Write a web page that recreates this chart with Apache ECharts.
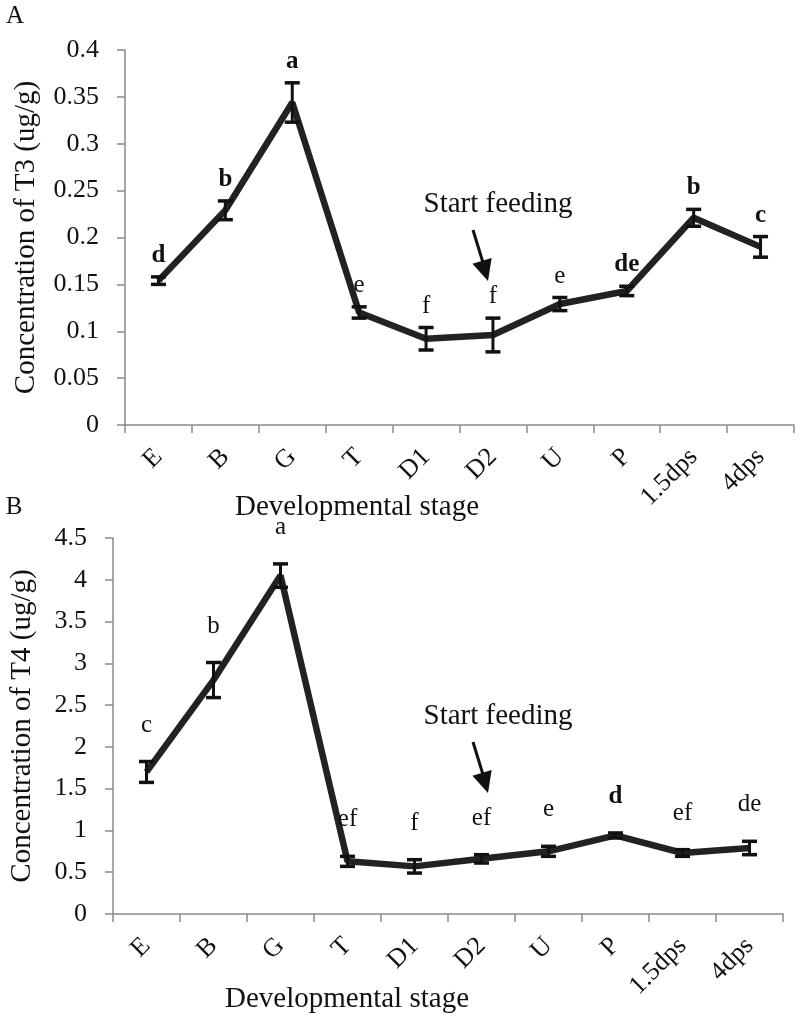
<!DOCTYPE html>
<html>
<head>
<meta charset="utf-8">
<script src="https://cdn.jsdelivr.net/npm/echarts@6/dist/echarts.min.js"></script>
<style>
html,body{margin:0;padding:0;background:#fff;}
#chart{width:800px;height:1018px;}
</style>
</head>
<body>
<div id="chart"></div>
<script>
// ---- data ----
const stages = ['E', 'B', 'G', 'T', 'D1', 'D2', 'U', 'P', '1.5dps', '4dps'];
const t3Mean = [0.154, 0.229, 0.344, 0.120, 0.092, 0.096, 0.129, 0.143, 0.221, 0.190];
const t3Err  = [0.004, 0.010, 0.021, 0.006, 0.012, 0.018, 0.007, 0.005, 0.009, 0.011];
const t3Letters = ['d', 'b', 'a', 'e', 'f', 'f', 'e', 'de', 'b', 'c'];
const t4Mean = [1.70, 2.80, 4.05, 0.63, 0.57, 0.66, 0.75, 0.94, 0.73, 0.79];
const t4Err  = [0.125, 0.21, 0.14, 0.06, 0.08, 0.05, 0.06, 0.03, 0.04, 0.08];
const t4Letters = ['c', 'b', 'a', 'ef', 'f', 'ef', 'e', 'd', 'ef', 'de'];
const t3Axis = {min: 0, max: 0.4, interval: 0.05};
const t4Axis = {min: 0, max: 4.5, interval: 0.5};
const xTitle = 'Developmental stage';
const yTitleT3 = 'Concentration of T3 (ug/g)';
const yTitleT4 = 'Concentration of T4 (ug/g)';
const note = 'Start feeding';

// ---- styling ----
const SERIF = '"Liberation Serif", "Times New Roman", serif';
const boldT3 = new Set([0, 1, 2, 7, 8, 9]);
const boldT4 = new Set([7]);
const axisGray = '#8a8a8a';

const chart = echarts.init(document.getElementById('chart'));

function xAxisCfg(gi) {
  return {
    type: 'category', gridIndex: gi, data: stages, boundaryGap: true,
    axisLine: {lineStyle: {color: axisGray, width: 1.5}},
    axisTick: {show: true, length: 8, lineStyle: {color: axisGray, width: 1.5}},
    axisLabel: {rotate: 45, margin: 28, interval: 0, fontSize: 26, fontFamily: SERIF, color: '#111'},
    splitLine: {show: false}
  };
}
function yAxisCfg(gi, ax, name, gap) {
  return {
    type: 'value', gridIndex: gi, min: ax.min, max: ax.max, interval: ax.interval,
    name: name, nameLocation: 'middle', nameRotate: 90, nameGap: gap,
    nameTextStyle: {fontSize: 29, fontFamily: SERIF, color: '#111'},
    axisLine: {show: true, lineStyle: {color: axisGray, width: 1.5}},
    axisTick: {show: true, length: 8, lineStyle: {color: axisGray, width: 1.5}},
    axisLabel: {margin: 26, fontSize: 26, fontFamily: SERIF, color: '#111'},
    splitLine: {show: false}
  };
}
function errSeries(gi, means, errs) {
  return {
    type: 'custom', xAxisIndex: gi, yAxisIndex: gi, z: 5,
    data: means.map((m, i) => [i, m, errs[i]]),
    renderItem: function (params, api) {
      const i = api.value(0), m = api.value(1), e = api.value(2);
      const top = api.coord([i, m + e]);
      const bot = api.coord([i, m - e]);
      const hw = 7.5;
      const st = {stroke: '#111', lineWidth: 3.5};
      return {type: 'group', children: [
        {type: 'line', shape: {x1: top[0], y1: top[1], x2: bot[0], y2: bot[1]}, style: {stroke: '#111', lineWidth: 3}},
        {type: 'line', shape: {x1: top[0] - hw, y1: top[1], x2: top[0] + hw, y2: top[1]}, style: st},
        {type: 'line', shape: {x1: bot[0] - hw, y1: bot[1], x2: bot[0] + hw, y2: bot[1]}, style: st}
      ]};
    }
  };
}
function letterSeries(gi, means, errs, letters, bold, gap) {
  return {
    type: 'custom', xAxisIndex: gi, yAxisIndex: gi, z: 6,
    data: means.map((m, i) => [i, m + errs[i]]),
    renderItem: function (params, api) {
      const i = api.value(0);
      const p = api.coord([i, api.value(1)]);
      return {type: 'text', x: p[0], y: p[1] - gap, style: {
        text: letters[i], fill: '#111', fontSize: 25, fontFamily: SERIF,
        fontWeight: bold.has(i) ? 'bold' : 'normal', align: 'center', verticalAlign: 'bottom'
      }};
    }
  };
}
function lineSeries(gi, means) {
  return {
    type: 'line', xAxisIndex: gi, yAxisIndex: gi, data: means, symbol: 'none', z: 3,
    lineStyle: {color: '#222', width: 6.5}
  };
}
function arrowGraphic(dy) {
  const tip = [488, 281 + dy], dir = [0.283, 0.962], perp = [0.962, -0.283];
  const hl = 21, hw = 10;
  const base = [tip[0] - hl * dir[0], tip[1] - hl * dir[1]];
  return [
    {type: 'line', shape: {x1: 473, y1: 230 + dy, x2: base[0] + 1, y2: base[1] + 2}, style: {stroke: '#111', lineWidth: 3}},
    {type: 'polygon', shape: {points: [tip, [base[0] + hw * perp[0], base[1] + hw * perp[1]], [base[0] - hw * perp[0], base[1] - hw * perp[1]]]}, style: {fill: '#111'}},
    {type: 'text', x: 498, y: 204 + dy, style: {text: note, fontSize: 29, fontFamily: SERIF, fill: '#111', align: 'center', verticalAlign: 'middle'}}
  ];
}

const option = {
  backgroundColor: '#fff',
  animation: false,
  grid: [
    {left: 125, top: 50, width: 669, height: 375},
    {left: 113, top: 538, width: 670, height: 376}
  ],
  xAxis: [xAxisCfg(0), xAxisCfg(1)],
  yAxis: [yAxisCfg(0, t3Axis, yTitleT3, 84), yAxisCfg(1, t4Axis, yTitleT4, 76)],
  series: [
    lineSeries(0, t3Mean), errSeries(0, t3Mean, t3Err), letterSeries(0, t3Mean, t3Err, t3Letters, boldT3, 9),
    lineSeries(1, t4Mean), errSeries(1, t4Mean, t4Err), letterSeries(1, t4Mean, t4Err, t4Letters, boldT4, 24)
  ],
  graphic: [
    {type: 'text', x: 15, y: 16, style: {text: 'A', fontSize: 25, fontFamily: SERIF, fill: '#111', align: 'center', verticalAlign: 'middle'}},
    {type: 'text', x: 14, y: 507, style: {text: 'B', fontSize: 25, fontFamily: SERIF, fill: '#111', align: 'center', verticalAlign: 'middle'}},
    {type: 'text', x: 357, y: 507, style: {text: xTitle, fontSize: 29, fontFamily: SERIF, fill: '#111', align: 'center', verticalAlign: 'middle'}},
    {type: 'text', x: 347, y: 999, style: {text: xTitle, fontSize: 29, fontFamily: SERIF, fill: '#111', align: 'center', verticalAlign: 'middle'}}
  ].concat(arrowGraphic(0), arrowGraphic(512))
};
chart.setOption(option);
</script>
</body>
</html>
